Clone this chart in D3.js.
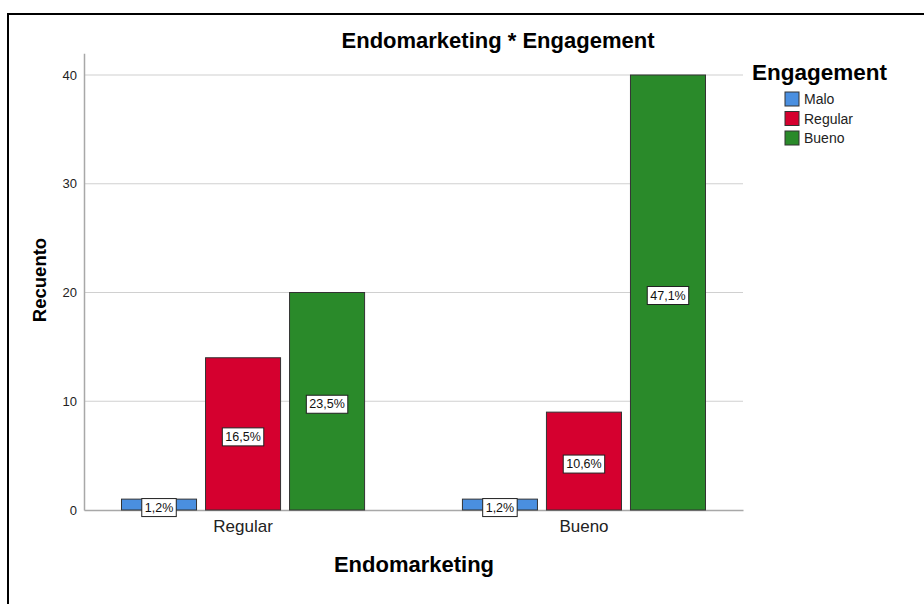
<!DOCTYPE html>
<html>
<head>
<meta charset="utf-8">
<script src="https://cdn.jsdelivr.net/npm/d3@7"></script>
<style>
  body { margin: 0; background: #fff; }
  text { font-family: "Liberation Sans", Arial, sans-serif; }
</style>
</head>
<body>
<div id="chart-area"></div>
<script>
// data
var categories = ["Regular", "Bueno"];          // Endomarketing
var series = ["Malo", "Regular", "Bueno"];      // Engagement
var maloCounts = [1, 1];
var regularCounts = [14, 9];
var buenoCounts = [20, 40];
var yTicks = [0, 10, 20, 30, 40];

var colors = ["#4a8fe0", "#d5002f", "#2a8a2a"];
var counts = [maloCounts, regularCounts, buenoCounts];
var total = d3.sum(counts, function(c) { return d3.sum(c); });

var svg = d3.select("#chart-area")
  .append("svg")
    .attr("width", 924)
    .attr("height", 604);

// frame
svg.append("rect")
  .attr("x", 8).attr("y", 14)
  .attr("width", 1000).attr("height", 1000)
  .attr("fill", "none")
  .attr("stroke", "#000")
  .attr("stroke-width", 2);

var x0 = d3.scaleBand()
  .domain(categories)
  .range([84, 743])
  .paddingInner(0.287)
  .paddingOuter(0.11);

var x1 = d3.scaleBand()
  .domain(series)
  .range([0, x0.bandwidth()])
  .paddingInner(0.107);

var y = d3.scaleLinear()
  .domain([0, 42])
  .range([510, 53.25]);

var color = d3.scaleOrdinal().domain(series).range(colors);

// gridlines
svg.append("g")
  .selectAll("line")
  .data(yTicks.filter(function(t) { return t > 0; }))
  .enter()
  .append("line")
    .attr("x1", 84).attr("x2", 743)
    .attr("y1", function(d) { return y(d); })
    .attr("y2", function(d) { return y(d); })
    .attr("stroke", "#d0d0d0")
    .attr("stroke-width", 1.2);

// y axis
var yAxis = svg.append("g")
  .attr("transform", "translate(84,0)")
  .call(d3.axisLeft(y).tickValues(yTicks).tickSize(0).tickPadding(7));
yAxis.select(".domain").attr("stroke", "#a8a8a8").attr("stroke-width", 1.5);
yAxis.selectAll("text")
  .attr("font-size", "13px")
  .attr("fill", "#222")
  .style("font-family", "Liberation Sans, Arial, sans-serif");

// x axis
var xAxis = svg.append("g")
  .attr("transform", "translate(0,510)")
  .call(d3.axisBottom(x0).tickSize(0).tickPadding(10).tickSizeOuter(0));
xAxis.select(".domain").attr("stroke", "#a8a8a8").attr("stroke-width", 1.5);
xAxis.selectAll("text")
  .attr("font-size", "17px")
  .attr("fill", "#222")
  .style("font-family", "Liberation Sans, Arial, sans-serif");

// bars
var rows = [];
categories.forEach(function(c, ci) {
  series.forEach(function(s, si) {
    rows.push({ cat: c, ser: s, value: counts[si][ci] });
  });
});

var groups = svg.append("g");

groups.selectAll("rect")
  .data(rows)
  .enter()
  .append("rect")
    .attr("x", function(d) { return x0(d.cat) + x1(d.ser); })
    .attr("y", function(d) { return y(d.value); })
    .attr("width", x1.bandwidth())
    .attr("height", function(d) { return y(0) - y(d.value); })
    .attr("fill", function(d) { return color(d.ser); })
    .attr("stroke", "#333")
    .attr("stroke-width", 1);

// percent labels
var labels = svg.append("g")
  .selectAll("g")
  .data(rows)
  .enter()
  .append("g")
    .attr("transform", function(d) {
      var cx = x0(d.cat) + x1(d.ser) + x1.bandwidth() / 2;
      var cy = (y(d.value) + y(0)) / 2 + 2.5;
      return "translate(" + cx + "," + cy + ")";
    });

labels.append("text")
  .attr("text-anchor", "middle")
  .attr("dy", "0.36em")
  .attr("font-size", "12.5px")
  .attr("fill", "#111")
  .text(function(d) {
    return (d.value / total * 100).toFixed(1).replace(".", ",") + "%";
  });

labels.each(function() {
  var g = d3.select(this);
  var bb = g.select("text").node().getBBox();
  g.insert("rect", "text")
    .attr("x", bb.x - 3)
    .attr("y", bb.y - 2)
    .attr("width", bb.width + 6)
    .attr("height", bb.height + 4)
    .attr("fill", "#fff")
    .attr("stroke", "#222")
    .attr("stroke-width", 1);
});

// titles
svg.append("text")
  .attr("x", 498).attr("y", 48)
  .attr("text-anchor", "middle")
  .attr("font-size", "22px")
  .attr("font-weight", "bold")
  .text("Endomarketing * Engagement");

svg.append("text")
  .attr("x", 414).attr("y", 572)
  .attr("text-anchor", "middle")
  .attr("font-size", "22px")
  .attr("font-weight", "bold")
  .text("Endomarketing");

svg.append("text")
  .attr("transform", "translate(46,280) rotate(-90)")
  .attr("text-anchor", "middle")
  .attr("font-size", "18.5px")
  .attr("font-weight", "bold")
  .text("Recuento");

// legend
svg.append("text")
  .attr("x", 752).attr("y", 80)
  .attr("font-size", "22.5px")
  .attr("font-weight", "bold")
  .text("Engagement");

var legend = svg.append("g")
  .selectAll("g")
  .data(series)
  .enter()
  .append("g")
    .attr("transform", function(d, i) { return "translate(785," + (92 + i * 19.5) + ")"; });

legend.append("rect")
  .attr("width", 14).attr("height", 14)
  .attr("fill", function(d) { return color(d); })
  .attr("stroke", "#333")
  .attr("stroke-width", 1);

legend.append("text")
  .attr("x", 19).attr("y", 12)
  .attr("font-size", "14px")
  .attr("fill", "#222")
  .text(function(d) { return d; });
</script>
</body>
</html>
